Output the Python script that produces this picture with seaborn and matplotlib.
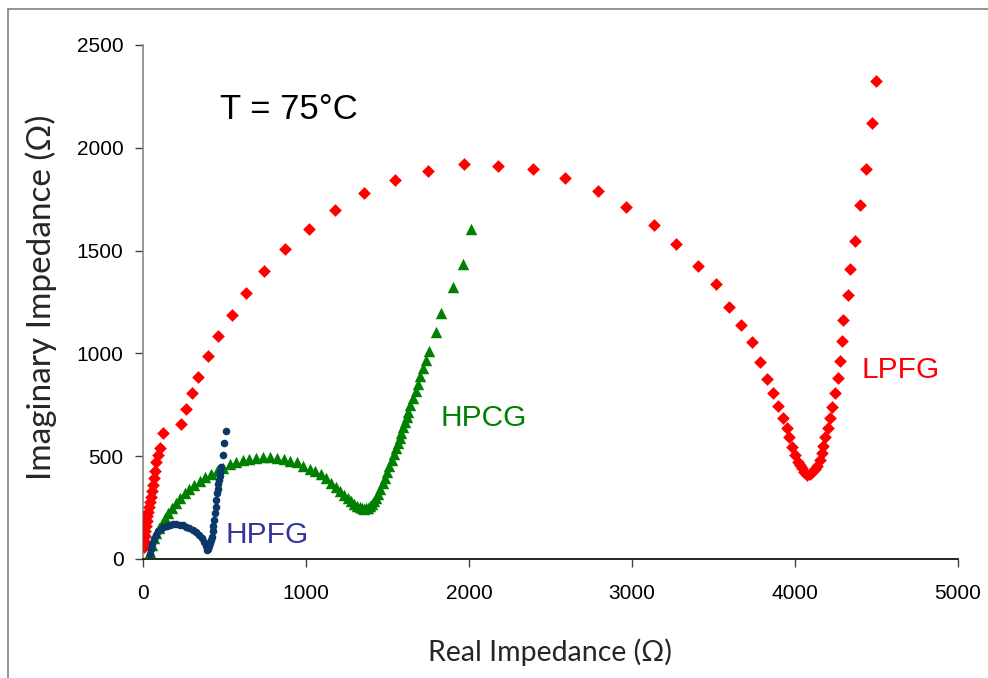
import matplotlib
matplotlib.use('Agg')
import matplotlib.pyplot as plt
import seaborn as sns
import pandas as pd
from matplotlib.lines import Line2D

# ── data ─────────────────────────────────────────────────────────────────────
lpfg_x = [8, 10, 12, 15, 18, 22, 27, 31, 37, 43, 49, 55, 61, 68, 74, 82, 90,
          104, 123, 233, 264, 301, 337, 399, 460, 546, 632, 742, 871, 1018,
          1178, 1356, 1546, 1748, 1969, 2178, 2393, 2589, 2791, 2963, 3135,
          3270, 3405, 3515, 3595, 3669, 3736, 3785, 3828, 3865, 3896, 3926,
          3951, 3963, 3982, 4000, 4018, 4030, 4043, 4058, 4074, 4090, 4104,
          4120, 4135, 4153, 4166, 4172, 4184, 4202, 4215, 4227, 4245, 4264,
          4276, 4288, 4294, 4325, 4337, 4368, 4399, 4436, 4472, 4497]
lpfg_y = [60, 85, 110, 135, 160, 185, 210, 230, 255, 275, 300, 330, 360, 395,
          430, 470, 505, 540, 613, 657, 730, 807, 885, 987, 1085, 1187, 1294,
          1401, 1508, 1605, 1697, 1780, 1843, 1887, 1921, 1911, 1897, 1853,
          1790, 1712, 1625, 1532, 1425, 1338, 1226, 1138, 1055, 958, 875, 807,
          744, 686, 637, 593, 545, 506, 472, 458, 443, 425, 409, 415, 423, 437,
          452, 482, 516, 550, 593, 637, 686, 739, 807, 880, 963, 1060, 1162,
          1284, 1410, 1547, 1722, 1897, 2121, 2325]

hpcg_x = [43, 55, 68, 82, 98, 115, 135, 155, 178, 202, 228, 255, 285, 315,
          348, 382, 418, 455, 493, 532, 572, 612, 652, 694, 736, 778, 820, 862,
          904, 944, 984, 1022, 1058, 1092, 1124, 1154, 1182, 1208, 1232, 1255,
          1276, 1296, 1314, 1330, 1344, 1356, 1368, 1380, 1392, 1404, 1416,
          1428, 1440, 1455, 1470, 1484, 1498, 1512, 1526, 1540, 1553, 1564,
          1574, 1583, 1595, 1607, 1617, 1626, 1641, 1656, 1672, 1687, 1702,
          1718, 1737, 1755, 1798, 1828, 1902, 1963, 2012]
hpcg_y = [34, 70, 100, 125, 150, 172, 198, 222, 248, 272, 296, 320, 342, 362,
          380, 398, 414, 428, 442, 462, 474, 482, 488, 492, 494, 494, 491, 486,
          479, 470, 452, 440, 426, 414, 394, 372, 352, 332, 312, 295, 280, 268,
          258, 251, 246, 244, 246, 250, 258, 268, 282, 298, 318, 342, 368, 395,
          422, 452, 482, 512, 540, 564, 590, 613, 640, 666, 690, 715, 750, 783,
          818, 851, 890, 929, 970, 1012, 1104, 1197, 1323, 1435, 1605]

hpfg_x = [40, 48, 56, 66, 78, 92, 108, 125, 145, 165, 185, 205, 225, 245, 265,
          285, 305, 325, 345, 362, 374, 384, 393, 398, 405, 412, 418, 423, 428,
          432, 437, 442, 446, 450, 454, 458, 462, 466, 470, 474, 479, 491, 497,
          509]
hpfg_y = [25, 50, 75, 98, 118, 135, 148, 156, 162, 166, 168, 168, 166, 163,
          158, 151, 142, 130, 115, 100, 82, 64, 46, 50, 62, 78, 92, 107, 135,
          160, 190, 224, 255, 288, 321, 342, 363, 384, 405, 425, 447, 506, 564,
          623]

x_ticks = [0, 1000, 2000, 3000, 4000, 5000]
y_ticks = [0, 500, 1000, 1500, 2000, 2500]

lpfg = pd.DataFrame({'x': lpfg_x, 'y': lpfg_y})
hpcg = pd.DataFrame({'x': hpcg_x, 'y': hpcg_y})
hpfg = pd.DataFrame({'x': hpfg_x, 'y': hpfg_y})

# ── style ────────────────────────────────────────────────────────────────────
sns.set_theme(style='white')
plt.rcParams['font.family'] = ['Liberation Sans', 'DejaVu Sans']

fig = plt.figure(figsize=(9.88, 6.78), dpi=100)
ax = fig.add_axes([143/988, 1 - 559/678, 815/988, 514/678])

sns.scatterplot(data=lpfg, x='x', y='y', ax=ax, marker='D', s=42,
                color='#FF0000', linewidth=0, zorder=3)
sns.scatterplot(data=hpcg, x='x', y='y', ax=ax, marker='^', s=68,
                color='#008000', linewidth=0, zorder=4)
sns.scatterplot(data=hpfg, x='x', y='y', ax=ax, marker='o', s=30,
                color='#0B3868', linewidth=0, zorder=5)

ax.set_xlim(0, 5000)
ax.set_ylim(0, 2500)
ax.set_xticks(x_ticks)
ax.set_yticks(y_ticks)
ax.set_xlabel('')
ax.set_ylabel('')
ax.tick_params(axis='both', labelsize=15, colors='black', length=6,
               width=1, direction='out')
ax.tick_params(axis='x', pad=12, color='#404040')
ax.tick_params(axis='y', pad=8, color='#404040')
ax.tick_params(left=True, bottom=True)
for side in ['top', 'right']:
    ax.spines[side].set_visible(False)
ax.spines['left'].set_color('#868686')
ax.spines['bottom'].set_color('black')
ax.spines['left'].set_linewidth(1.2)
ax.spines['bottom'].set_linewidth(1.2)

# ── annotations ──────────────────────────────────────────────────────────────
ax.text(472, 2184, 'T = 75°C', fontsize=25, color='black', va='center')
ax.text(1828, 686, 'HPCG', fontsize=21.5, color='#008000', va='center')
ax.text(4411, 919, 'LPFG', fontsize=21.5, color='#FF0000', va='center')
ax.text(509, 117, 'HPFG', fontsize=21.5, color='#333399', va='center')

fig.text(550/988, 1 - 652/678, 'Real Impedance (Ω)', fontsize=20.5,
         family=['Lato', 'DejaVu Sans'], ha='center', va='center')
fig.text(41/988, 1 - 297/678, 'Imaginary Impedance (Ω)', fontsize=24,
         family=['Lato', 'DejaVu Sans'], rotation=90, ha='center', va='center')

# outer frame of the chart area
fig.add_artist(Line2D([8/988, 8/988], [0, 1 - 9/678], color='#808080',
                      lw=1.2, transform=fig.transFigure))
fig.add_artist(Line2D([8/988, 1], [1 - 9/678, 1 - 9/678], color='#808080',
                      lw=1.2, transform=fig.transFigure))

fig.savefig('out.png', dpi=100)
